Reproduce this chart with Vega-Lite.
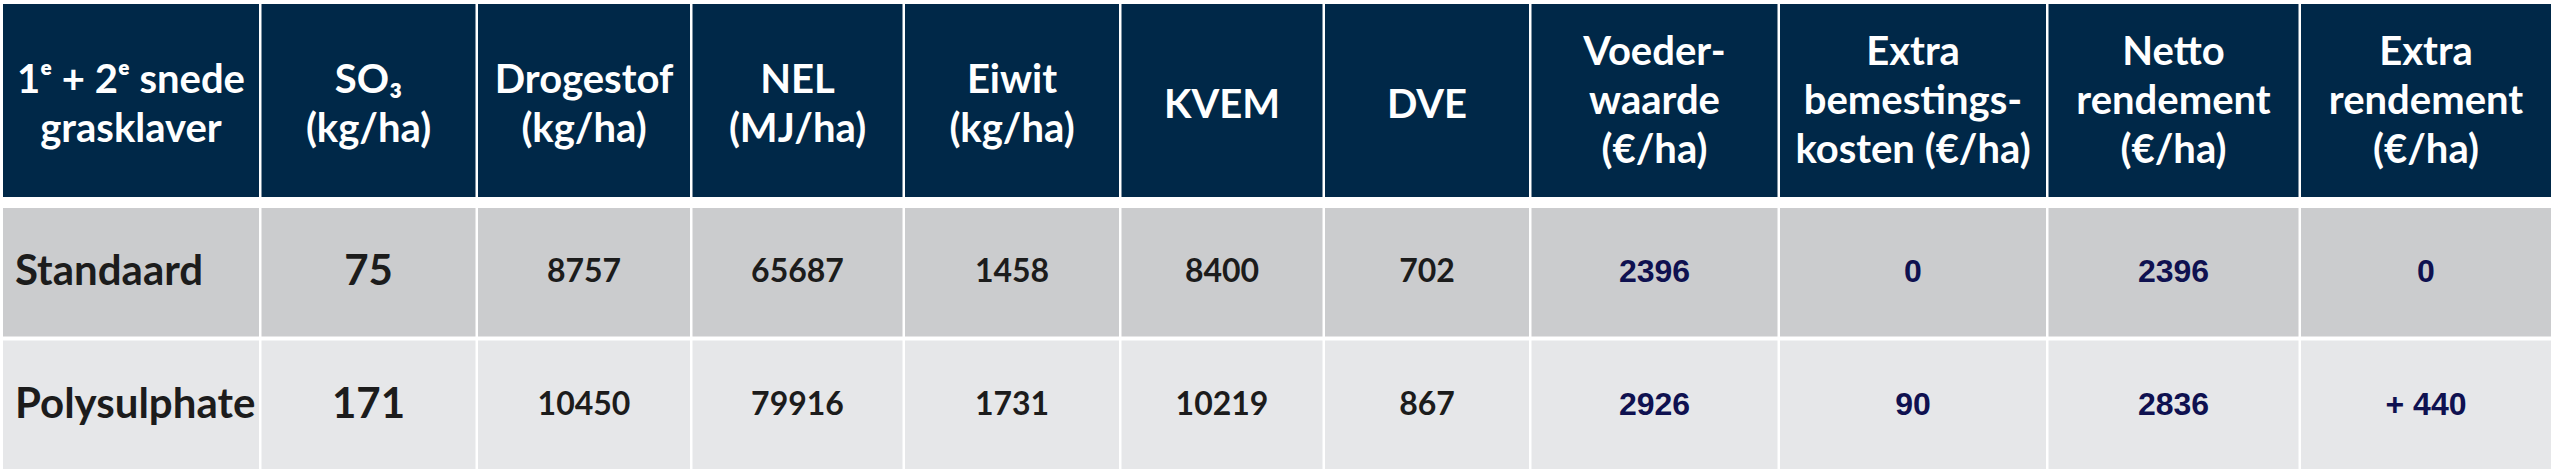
{
  "$schema": "https://vega.github.io/schema/vega-lite/v6.json",
  "background": "white",
  "padding": {"left": 3, "top": 4, "right": 0, "bottom": 0},
  "config": {"view": {"stroke": null}},
  "datasets": {
    "header": [
      {"col": "c1", "label": "1ᵉ + 2ᵉ snede\ngrasklaver"},
      {"col": "c2", "label": "SO₃\n(kg/ha)"},
      {"col": "c3", "label": "Drogestof\n(kg/ha)"},
      {"col": "c4", "label": "NEL\n(MJ/ha)"},
      {"col": "c5", "label": "Eiwit\n(kg/ha)"},
      {"col": "c6", "label": "KVEM"},
      {"col": "c7", "label": "DVE"},
      {"col": "c8", "label": "Voeder-\nwaarde\n(€/ha)"},
      {"col": "c9", "label": "Extra\nbemestings-\nkosten (€/ha)"},
      {"col": "c10", "label": "Netto\nrendement\n(€/ha)"},
      {"col": "c11", "label": "Extra\nrendement\n(€/ha)"}
    ],
    "body": [
      {"col": "c1", "row": "Standaard", "value": "Standaard"},
      {"col": "c1", "row": "Polysulphate", "value": "Polysulphate"},
      {"col": "c2", "row": "Standaard", "value": "75"},
      {"col": "c2", "row": "Polysulphate", "value": "171"},
      {"col": "c3", "row": "Standaard", "value": "8757"},
      {"col": "c3", "row": "Polysulphate", "value": "10450"},
      {"col": "c4", "row": "Standaard", "value": "65687"},
      {"col": "c4", "row": "Polysulphate", "value": "79916"},
      {"col": "c5", "row": "Standaard", "value": "1458"},
      {"col": "c5", "row": "Polysulphate", "value": "1731"},
      {"col": "c6", "row": "Standaard", "value": "8400"},
      {"col": "c6", "row": "Polysulphate", "value": "10219"},
      {"col": "c7", "row": "Standaard", "value": "702"},
      {"col": "c7", "row": "Polysulphate", "value": "867"},
      {"col": "c8", "row": "Standaard", "value": "2396"},
      {"col": "c8", "row": "Polysulphate", "value": "2926"},
      {"col": "c9", "row": "Standaard", "value": "0"},
      {"col": "c9", "row": "Polysulphate", "value": "90"},
      {"col": "c10", "row": "Standaard", "value": "2396"},
      {"col": "c10", "row": "Polysulphate", "value": "2836"},
      {"col": "c11", "row": "Standaard", "value": "0"},
      {"col": "c11", "row": "Polysulphate", "value": "+ 440"}
    ]
  },
  "spacing": 11,
  "vconcat": [
    {
      "spacing": 2.5,
      "resolve": {"scale": {"x": "independent", "y": "independent"}},
      "hconcat": [
        {"width": 256, "height": 193, "data": {"name": "header"}, "transform": [{"filter": "datum.col == 'c1'"}],
         "encoding": {"x": {"field": "col", "type": "nominal", "axis": null, "scale": {"type": "band", "paddingInner": 0, "paddingOuter": 0}}, "y": {"field": "col", "type": "nominal", "axis": null, "scale": {"type": "band", "paddingInner": 0, "paddingOuter": 0}}},
         "layer": [{"mark": {"type": "rect", "color": "#002848"}}, {"mark": {"type": "text", "color": "white", "font": "Lato", "fontWeight": "bold", "fontSize": 40, "lineHeight": 49, "lineBreak": "\n", "dy": -20}, "encoding": {"text": {"field": "label"}}}]},
        {"width": 214, "height": 193, "data": {"name": "header"}, "transform": [{"filter": "datum.col == 'c2'"}],
         "encoding": {"x": {"field": "col", "type": "nominal", "axis": null, "scale": {"type": "band", "paddingInner": 0, "paddingOuter": 0}}, "y": {"field": "col", "type": "nominal", "axis": null, "scale": {"type": "band", "paddingInner": 0, "paddingOuter": 0}}},
         "layer": [{"mark": {"type": "rect", "color": "#002848"}}, {"mark": {"type": "text", "color": "white", "font": "Lato", "fontWeight": "bold", "fontSize": 40, "lineHeight": 49, "lineBreak": "\n", "dy": -20}, "encoding": {"text": {"field": "label"}}}]},
        {"width": 212, "height": 193, "data": {"name": "header"}, "transform": [{"filter": "datum.col == 'c3'"}],
         "encoding": {"x": {"field": "col", "type": "nominal", "axis": null, "scale": {"type": "band", "paddingInner": 0, "paddingOuter": 0}}, "y": {"field": "col", "type": "nominal", "axis": null, "scale": {"type": "band", "paddingInner": 0, "paddingOuter": 0}}},
         "layer": [{"mark": {"type": "rect", "color": "#002848"}}, {"mark": {"type": "text", "color": "white", "font": "Lato", "fontWeight": "bold", "fontSize": 40, "lineHeight": 49, "lineBreak": "\n", "dy": -20}, "encoding": {"text": {"field": "label"}}}]},
        {"width": 210, "height": 193, "data": {"name": "header"}, "transform": [{"filter": "datum.col == 'c4'"}],
         "encoding": {"x": {"field": "col", "type": "nominal", "axis": null, "scale": {"type": "band", "paddingInner": 0, "paddingOuter": 0}}, "y": {"field": "col", "type": "nominal", "axis": null, "scale": {"type": "band", "paddingInner": 0, "paddingOuter": 0}}},
         "layer": [{"mark": {"type": "rect", "color": "#002848"}}, {"mark": {"type": "text", "color": "white", "font": "Lato", "fontWeight": "bold", "fontSize": 40, "lineHeight": 49, "lineBreak": "\n", "dy": -20}, "encoding": {"text": {"field": "label"}}}]},
        {"width": 214, "height": 193, "data": {"name": "header"}, "transform": [{"filter": "datum.col == 'c5'"}],
         "encoding": {"x": {"field": "col", "type": "nominal", "axis": null, "scale": {"type": "band", "paddingInner": 0, "paddingOuter": 0}}, "y": {"field": "col", "type": "nominal", "axis": null, "scale": {"type": "band", "paddingInner": 0, "paddingOuter": 0}}},
         "layer": [{"mark": {"type": "rect", "color": "#002848"}}, {"mark": {"type": "text", "color": "white", "font": "Lato", "fontWeight": "bold", "fontSize": 40, "lineHeight": 49, "lineBreak": "\n", "dy": -20}, "encoding": {"text": {"field": "label"}}}]},
        {"width": 201, "height": 193, "data": {"name": "header"}, "transform": [{"filter": "datum.col == 'c6'"}],
         "encoding": {"x": {"field": "col", "type": "nominal", "axis": null, "scale": {"type": "band", "paddingInner": 0, "paddingOuter": 0}}, "y": {"field": "col", "type": "nominal", "axis": null, "scale": {"type": "band", "paddingInner": 0, "paddingOuter": 0}}},
         "layer": [{"mark": {"type": "rect", "color": "#002848"}}, {"mark": {"type": "text", "color": "white", "font": "Lato", "fontWeight": "bold", "fontSize": 40, "lineHeight": 49, "lineBreak": "\n", "dy": 5}, "encoding": {"text": {"field": "label"}}}]},
        {"width": 204, "height": 193, "data": {"name": "header"}, "transform": [{"filter": "datum.col == 'c7'"}],
         "encoding": {"x": {"field": "col", "type": "nominal", "axis": null, "scale": {"type": "band", "paddingInner": 0, "paddingOuter": 0}}, "y": {"field": "col", "type": "nominal", "axis": null, "scale": {"type": "band", "paddingInner": 0, "paddingOuter": 0}}},
         "layer": [{"mark": {"type": "rect", "color": "#002848"}}, {"mark": {"type": "text", "color": "white", "font": "Lato", "fontWeight": "bold", "fontSize": 40, "lineHeight": 49, "lineBreak": "\n", "dy": 5}, "encoding": {"text": {"field": "label"}}}]},
        {"width": 246, "height": 193, "data": {"name": "header"}, "transform": [{"filter": "datum.col == 'c8'"}],
         "encoding": {"x": {"field": "col", "type": "nominal", "axis": null, "scale": {"type": "band", "paddingInner": 0, "paddingOuter": 0}}, "y": {"field": "col", "type": "nominal", "axis": null, "scale": {"type": "band", "paddingInner": 0, "paddingOuter": 0}}},
         "layer": [{"mark": {"type": "rect", "color": "#002848"}}, {"mark": {"type": "text", "color": "white", "font": "Lato", "fontWeight": "bold", "fontSize": 40, "lineHeight": 49, "lineBreak": "\n", "dy": -48}, "encoding": {"text": {"field": "label"}}}]},
        {"width": 266, "height": 193, "data": {"name": "header"}, "transform": [{"filter": "datum.col == 'c9'"}],
         "encoding": {"x": {"field": "col", "type": "nominal", "axis": null, "scale": {"type": "band", "paddingInner": 0, "paddingOuter": 0}}, "y": {"field": "col", "type": "nominal", "axis": null, "scale": {"type": "band", "paddingInner": 0, "paddingOuter": 0}}},
         "layer": [{"mark": {"type": "rect", "color": "#002848"}}, {"mark": {"type": "text", "color": "white", "font": "Lato", "fontWeight": "bold", "fontSize": 40, "lineHeight": 49, "lineBreak": "\n", "dy": -48}, "encoding": {"text": {"field": "label"}}}]},
        {"width": 250, "height": 193, "data": {"name": "header"}, "transform": [{"filter": "datum.col == 'c10'"}],
         "encoding": {"x": {"field": "col", "type": "nominal", "axis": null, "scale": {"type": "band", "paddingInner": 0, "paddingOuter": 0}}, "y": {"field": "col", "type": "nominal", "axis": null, "scale": {"type": "band", "paddingInner": 0, "paddingOuter": 0}}},
         "layer": [{"mark": {"type": "rect", "color": "#002848"}}, {"mark": {"type": "text", "color": "white", "font": "Lato", "fontWeight": "bold", "fontSize": 40, "lineHeight": 49, "lineBreak": "\n", "dy": -48}, "encoding": {"text": {"field": "label"}}}]},
        {"width": 250, "height": 193, "data": {"name": "header"}, "transform": [{"filter": "datum.col == 'c11'"}],
         "encoding": {"x": {"field": "col", "type": "nominal", "axis": null, "scale": {"type": "band", "paddingInner": 0, "paddingOuter": 0}}, "y": {"field": "col", "type": "nominal", "axis": null, "scale": {"type": "band", "paddingInner": 0, "paddingOuter": 0}}},
         "layer": [{"mark": {"type": "rect", "color": "#002848"}}, {"mark": {"type": "text", "color": "white", "font": "Lato", "fontWeight": "bold", "fontSize": 40, "lineHeight": 49, "lineBreak": "\n", "dy": -48}, "encoding": {"text": {"field": "label"}}}]}
      ]
    },
    {
      "spacing": 2.5,
      "resolve": {"scale": {"x": "independent", "y": "independent"}},
      "hconcat": [
        {"width": 256, "height": 261, "data": {"name": "body"}, "transform": [{"filter": "datum.col == 'c1'"}],
         "encoding": {"x": {"field": "col", "type": "nominal", "axis": null, "scale": {"type": "band", "paddingInner": 0, "paddingOuter": 0}}, "y": {"field": "row", "type": "nominal", "axis": null, "scale": {"type": "band", "domain": ["Standaard", "Polysulphate"], "paddingInner": 0.03, "paddingOuter": 0}}},
         "layer": [{"mark": "rect", "encoding": {"color": {"field": "row", "type": "nominal", "legend": null, "scale": {"domain": ["Standaard", "Polysulphate"], "range": ["#CBCCCE", "#E6E7E9"]}}}},
                   {"mark": {"type": "text", "color": "#1c1c1c", "font": "Lato", "fontWeight": "bold", "fontSize": 42, "align": "left", "dx": 12}, "encoding": {"x": {"field": "col", "type": "nominal", "bandPosition": 0}, "text": {"field": "value"}}}]},
        {"width": 214, "height": 261, "data": {"name": "body"}, "transform": [{"filter": "datum.col == 'c2'"}],
         "encoding": {"x": {"field": "col", "type": "nominal", "axis": null, "scale": {"type": "band", "paddingInner": 0, "paddingOuter": 0}}, "y": {"field": "row", "type": "nominal", "axis": null, "scale": {"type": "band", "domain": ["Standaard", "Polysulphate"], "paddingInner": 0.03, "paddingOuter": 0}}},
         "layer": [{"mark": "rect", "encoding": {"color": {"field": "row", "type": "nominal", "legend": null, "scale": {"domain": ["Standaard", "Polysulphate"], "range": ["#CBCCCE", "#E6E7E9"]}}}},
                   {"mark": {"type": "text", "color": "#1c1c1c", "font": "Lato", "fontWeight": "bold", "fontSize": 42}, "encoding": {"text": {"field": "value"}}}]},
        {"width": 212, "height": 261, "data": {"name": "body"}, "transform": [{"filter": "datum.col == 'c3'"}],
         "encoding": {"x": {"field": "col", "type": "nominal", "axis": null, "scale": {"type": "band", "paddingInner": 0, "paddingOuter": 0}}, "y": {"field": "row", "type": "nominal", "axis": null, "scale": {"type": "band", "domain": ["Standaard", "Polysulphate"], "paddingInner": 0.03, "paddingOuter": 0}}},
         "layer": [{"mark": "rect", "encoding": {"color": {"field": "row", "type": "nominal", "legend": null, "scale": {"domain": ["Standaard", "Polysulphate"], "range": ["#CBCCCE", "#E6E7E9"]}}}},
                   {"mark": {"type": "text", "color": "#1c1c1c", "font": "Lato", "fontWeight": "bold", "fontSize": 32}, "encoding": {"text": {"field": "value"}}}]},
        {"width": 210, "height": 261, "data": {"name": "body"}, "transform": [{"filter": "datum.col == 'c4'"}],
         "encoding": {"x": {"field": "col", "type": "nominal", "axis": null, "scale": {"type": "band", "paddingInner": 0, "paddingOuter": 0}}, "y": {"field": "row", "type": "nominal", "axis": null, "scale": {"type": "band", "domain": ["Standaard", "Polysulphate"], "paddingInner": 0.03, "paddingOuter": 0}}},
         "layer": [{"mark": "rect", "encoding": {"color": {"field": "row", "type": "nominal", "legend": null, "scale": {"domain": ["Standaard", "Polysulphate"], "range": ["#CBCCCE", "#E6E7E9"]}}}},
                   {"mark": {"type": "text", "color": "#1c1c1c", "font": "Lato", "fontWeight": "bold", "fontSize": 32}, "encoding": {"text": {"field": "value"}}}]},
        {"width": 214, "height": 261, "data": {"name": "body"}, "transform": [{"filter": "datum.col == 'c5'"}],
         "encoding": {"x": {"field": "col", "type": "nominal", "axis": null, "scale": {"type": "band", "paddingInner": 0, "paddingOuter": 0}}, "y": {"field": "row", "type": "nominal", "axis": null, "scale": {"type": "band", "domain": ["Standaard", "Polysulphate"], "paddingInner": 0.03, "paddingOuter": 0}}},
         "layer": [{"mark": "rect", "encoding": {"color": {"field": "row", "type": "nominal", "legend": null, "scale": {"domain": ["Standaard", "Polysulphate"], "range": ["#CBCCCE", "#E6E7E9"]}}}},
                   {"mark": {"type": "text", "color": "#1c1c1c", "font": "Lato", "fontWeight": "bold", "fontSize": 32}, "encoding": {"text": {"field": "value"}}}]},
        {"width": 201, "height": 261, "data": {"name": "body"}, "transform": [{"filter": "datum.col == 'c6'"}],
         "encoding": {"x": {"field": "col", "type": "nominal", "axis": null, "scale": {"type": "band", "paddingInner": 0, "paddingOuter": 0}}, "y": {"field": "row", "type": "nominal", "axis": null, "scale": {"type": "band", "domain": ["Standaard", "Polysulphate"], "paddingInner": 0.03, "paddingOuter": 0}}},
         "layer": [{"mark": "rect", "encoding": {"color": {"field": "row", "type": "nominal", "legend": null, "scale": {"domain": ["Standaard", "Polysulphate"], "range": ["#CBCCCE", "#E6E7E9"]}}}},
                   {"mark": {"type": "text", "color": "#1c1c1c", "font": "Lato", "fontWeight": "bold", "fontSize": 32}, "encoding": {"text": {"field": "value"}}}]},
        {"width": 204, "height": 261, "data": {"name": "body"}, "transform": [{"filter": "datum.col == 'c7'"}],
         "encoding": {"x": {"field": "col", "type": "nominal", "axis": null, "scale": {"type": "band", "paddingInner": 0, "paddingOuter": 0}}, "y": {"field": "row", "type": "nominal", "axis": null, "scale": {"type": "band", "domain": ["Standaard", "Polysulphate"], "paddingInner": 0.03, "paddingOuter": 0}}},
         "layer": [{"mark": "rect", "encoding": {"color": {"field": "row", "type": "nominal", "legend": null, "scale": {"domain": ["Standaard", "Polysulphate"], "range": ["#CBCCCE", "#E6E7E9"]}}}},
                   {"mark": {"type": "text", "color": "#1c1c1c", "font": "Lato", "fontWeight": "bold", "fontSize": 32}, "encoding": {"text": {"field": "value"}}}]},
        {"width": 246, "height": 261, "data": {"name": "body"}, "transform": [{"filter": "datum.col == 'c8'"}],
         "encoding": {"x": {"field": "col", "type": "nominal", "axis": null, "scale": {"type": "band", "paddingInner": 0, "paddingOuter": 0}}, "y": {"field": "row", "type": "nominal", "axis": null, "scale": {"type": "band", "domain": ["Standaard", "Polysulphate"], "paddingInner": 0.03, "paddingOuter": 0}}},
         "layer": [{"mark": "rect", "encoding": {"color": {"field": "row", "type": "nominal", "legend": null, "scale": {"domain": ["Standaard", "Polysulphate"], "range": ["#CBCCCE", "#E6E7E9"]}}}},
                   {"mark": {"type": "text", "color": "#0F1150", "font": "Liberation Sans", "fontWeight": "bold", "fontSize": 32}, "encoding": {"text": {"field": "value"}}}]},
        {"width": 266, "height": 261, "data": {"name": "body"}, "transform": [{"filter": "datum.col == 'c9'"}],
         "encoding": {"x": {"field": "col", "type": "nominal", "axis": null, "scale": {"type": "band", "paddingInner": 0, "paddingOuter": 0}}, "y": {"field": "row", "type": "nominal", "axis": null, "scale": {"type": "band", "domain": ["Standaard", "Polysulphate"], "paddingInner": 0.03, "paddingOuter": 0}}},
         "layer": [{"mark": "rect", "encoding": {"color": {"field": "row", "type": "nominal", "legend": null, "scale": {"domain": ["Standaard", "Polysulphate"], "range": ["#CBCCCE", "#E6E7E9"]}}}},
                   {"mark": {"type": "text", "color": "#0F1150", "font": "Liberation Sans", "fontWeight": "bold", "fontSize": 32}, "encoding": {"text": {"field": "value"}}}]},
        {"width": 250, "height": 261, "data": {"name": "body"}, "transform": [{"filter": "datum.col == 'c10'"}],
         "encoding": {"x": {"field": "col", "type": "nominal", "axis": null, "scale": {"type": "band", "paddingInner": 0, "paddingOuter": 0}}, "y": {"field": "row", "type": "nominal", "axis": null, "scale": {"type": "band", "domain": ["Standaard", "Polysulphate"], "paddingInner": 0.03, "paddingOuter": 0}}},
         "layer": [{"mark": "rect", "encoding": {"color": {"field": "row", "type": "nominal", "legend": null, "scale": {"domain": ["Standaard", "Polysulphate"], "range": ["#CBCCCE", "#E6E7E9"]}}}},
                   {"mark": {"type": "text", "color": "#0F1150", "font": "Liberation Sans", "fontWeight": "bold", "fontSize": 32}, "encoding": {"text": {"field": "value"}}}]},
        {"width": 250, "height": 261, "data": {"name": "body"}, "transform": [{"filter": "datum.col == 'c11'"}],
         "encoding": {"x": {"field": "col", "type": "nominal", "axis": null, "scale": {"type": "band", "paddingInner": 0, "paddingOuter": 0}}, "y": {"field": "row", "type": "nominal", "axis": null, "scale": {"type": "band", "domain": ["Standaard", "Polysulphate"], "paddingInner": 0.03, "paddingOuter": 0}}},
         "layer": [{"mark": "rect", "encoding": {"color": {"field": "row", "type": "nominal", "legend": null, "scale": {"domain": ["Standaard", "Polysulphate"], "range": ["#CBCCCE", "#E6E7E9"]}}}},
                   {"mark": {"type": "text", "color": "#0F1150", "font": "Liberation Sans", "fontWeight": "bold", "fontSize": 32}, "encoding": {"text": {"field": "value"}}}]}
      ]
    }
  ]
}
